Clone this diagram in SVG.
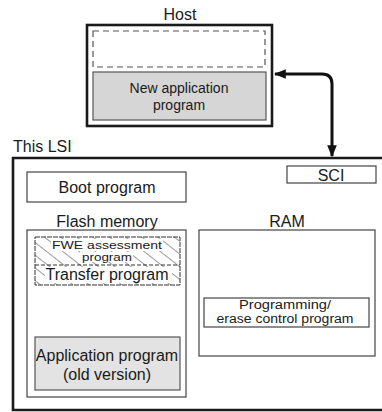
<svg xmlns="http://www.w3.org/2000/svg" width="382" height="412" viewBox="0 0 382 412">
<style>
text{font-family:"Liberation Sans",Arial,sans-serif;fill:#1a1a1a;text-anchor:middle}
.t16{font-size:16px}
.t14{font-size:14px}
.t12{font-size:12px}
.t11{font-size:11px}
.box{fill:#fff;stroke:#444;stroke-width:1.2}
.thick{fill:none;stroke:#1a1a1a;stroke-width:2.6}
.conn{fill:none;stroke:#111;stroke-width:3}
</style>
<defs>
<pattern id="hatch" width="10" height="10" patternUnits="userSpaceOnUse" patternTransform="rotate(-52)">
<rect width="10" height="10" fill="#fff"/>
<line x1="0" y1="0" x2="0" y2="10" stroke="#222" stroke-width="0.9"/>
</pattern>
<marker id="ah" viewBox="0 0 10 10" refX="9" refY="5" markerWidth="4" markerHeight="4" orient="auto-start-reverse" markerUnits="strokeWidth">
<path d="M0,1 L10,5 L0,9 Z" fill="#111"/>
</marker>
</defs>

<g id="host">
<text class="t16" x="180" y="20">Host</text>
<rect class="thick" x="87" y="25" width="185" height="101"/>
<rect x="93" y="31" width="172" height="36" fill="none" stroke="#555" stroke-width="1.2" stroke-dasharray="6 4"/>
</g>
<g id="new-app">
<rect x="93" y="72" width="173" height="48" fill="#d6d6d6" stroke="#555" stroke-width="1.2"/>
<text class="t14" x="179" y="93">New application</text>
<text class="t14" x="179" y="110">program</text>
</g>

<g id="lsi">
<text class="t16" x="13" y="152" style="text-anchor:start">This LSI</text>
<path class="thick" d="M384,158 H13 V410 H384"/>
</g>

<g id="sci">
<rect class="box" x="287" y="166" width="89" height="17"/>
<text class="t16" x="331" y="181">SCI</text>
</g>

<g id="boot">
<rect class="box" x="27" y="172" width="159" height="30"/>
<text class="t16" x="107" y="193">Boot program</text>
</g>

<g id="flash">
<text class="t16" x="107" y="227">Flash memory</text>
<rect class="box" x="27" y="230" width="159" height="167" stroke="#666"/>
</g>

<g id="hatched">
<rect x="35" y="237" width="145" height="48" fill="url(#hatch)" stroke="#333" stroke-width="1" stroke-dasharray="5 1"/>
<line x1="35" y1="265" x2="180" y2="265" stroke="#333" stroke-width="1" stroke-dasharray="4 2"/>
<rect x="51" y="239" width="112" height="12" fill="#fff"/>
<rect x="80" y="252" width="53" height="10" fill="#fff"/>
<rect x="45" y="267" width="127" height="16" fill="#fff"/>
<text class="t11" x="107" y="249" textLength="110" lengthAdjust="spacingAndGlyphs">FWE assessment</text>
<text class="t11" x="107" y="261" textLength="50" lengthAdjust="spacingAndGlyphs">program</text>
<text class="t16" x="107" y="280">Transfer program</text>
</g>

<g id="old-app">
<rect x="35" y="337" width="145" height="53" fill="#e3e3e3" stroke="#555" stroke-width="1.2"/>
<text class="t16" x="107" y="361">Application program</text>
<text class="t16" x="107" y="380">(old version)</text>
</g>

<g id="ram">
<text class="t16" x="287" y="227">RAM</text>
<rect class="box" x="199" y="230" width="176" height="126" stroke="#666"/>
</g>

<g id="pe-control">
<rect class="box" x="204" y="298" width="165" height="29"/>
<text class="t12" x="285" y="309" textLength="92" lengthAdjust="spacingAndGlyphs">Programming/</text>
<text class="t12" x="285" y="323" textLength="137" lengthAdjust="spacingAndGlyphs">erase control program</text>
</g>

<g id="connectors">
<path class="conn" d="M275,74 H322 Q332,74 332,84 V156" marker-start="url(#ah)" marker-end="url(#ah)"/>
</g>
</svg>
